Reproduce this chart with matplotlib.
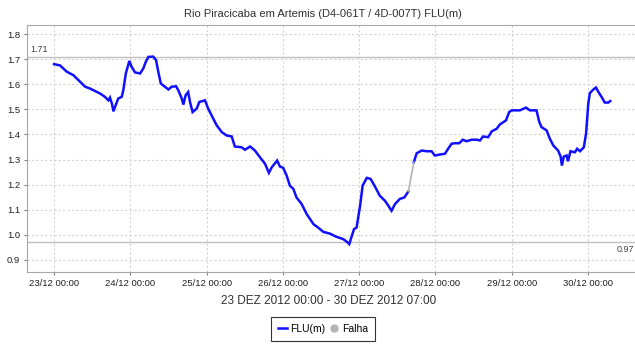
import matplotlib.pyplot as plt

# Nivel do rio (FLU, m) -- horas desde 23/12/2012 00:00
hours = [0, 1.9, 4.0, 6.1, 8.2, 9.8, 11.3, 12.9, 14.5, 16.0, 17.1, 17.6, 18.2, 18.7,
         19.2, 20.2, 21.3, 21.8, 22.6, 23.7, 24.4, 25.5, 27.1, 28.1, 28.9, 29.7,
         31.2, 32.1, 32.8, 33.6, 34.9, 36.0, 37.0, 38.4, 39.1, 40.2, 40.7, 41.4,
         42.2, 42.8, 43.6, 44.9, 45.7, 47.5, 48.5, 50.1, 51.2, 52.8, 54.3, 55.9,
         56.9, 59.0, 60.1, 61.7, 63.2, 64.8, 66.4, 67.6, 68.5, 70.2, 71.1, 72.1,
         73.2, 74.2, 75.3, 76.3, 77.9, 79.5, 81.6, 83.1, 84.7, 86.8, 88.9, 91.0,
         92.1, 92.9, 93.6, 94.4, 95.2, 96.3, 97.1, 98.4, 99.6, 101.0, 102.5, 104.1,
         105.2, 106.2, 107.3, 108.8, 110.2, 111.5]
level = [1.68, 1.675, 1.65, 1.636, 1.61, 1.59, 1.583, 1.573, 1.563, 1.55, 1.536, 1.547,
         1.523, 1.492, 1.51, 1.543, 1.55, 1.576, 1.643, 1.693, 1.67, 1.647, 1.643,
         1.663, 1.69, 1.709, 1.71, 1.696, 1.65, 1.603, 1.59, 1.579, 1.59, 1.592,
         1.576, 1.543, 1.519, 1.556, 1.569, 1.529, 1.489, 1.503, 1.529, 1.536, 1.503,
         1.463, 1.436, 1.409, 1.396, 1.392, 1.352, 1.349, 1.339, 1.352, 1.336, 1.309,
         1.283, 1.247, 1.269, 1.296, 1.272, 1.267, 1.236, 1.196, 1.183, 1.149, 1.123,
         1.083, 1.043, 1.029, 1.012, 1.005, 0.992, 0.983, 0.973, 0.963, 0.992, 1.023,
         1.029, 1.116, 1.196, 1.227, 1.223, 1.192, 1.156, 1.136, 1.116, 1.096, 1.123,
         1.143, 1.149, 1.173]

hours2 = [113.2, 114.1, 115.7, 117.2, 118.8, 119.8, 121.4, 123.0, 124.0, 125.1, 126.1,
          127.5, 128.6, 129.8, 131.4, 133.0, 134.0, 135.0, 136.6, 137.7, 139.3, 140.3,
          142.2, 143.2, 144.0, 146.6, 148.5, 149.7, 151.8, 152.7, 153.4, 155.0, 156.0,
          157.1, 158.6, 159.4, 159.8, 160.4, 161.3, 161.7, 162.5, 163.9, 164.6, 165.5,
          166.7, 167.4, 168.1, 168.6, 169.7, 170.5, 171.3, 172.3, 173.3, 174.4, 175.0]
level2 = [1.289, 1.325, 1.336, 1.333, 1.333, 1.316, 1.32, 1.323, 1.343, 1.363, 1.365,
          1.365, 1.379, 1.373, 1.379, 1.379, 1.376, 1.392, 1.389, 1.412, 1.423, 1.44,
          1.456, 1.489, 1.496, 1.496, 1.507, 1.496, 1.496, 1.449, 1.429, 1.416, 1.383,
          1.356, 1.336, 1.312, 1.276, 1.312, 1.316, 1.293, 1.333, 1.329, 1.343, 1.333,
          1.349, 1.403, 1.523, 1.565, 1.579, 1.587, 1.569, 1.549, 1.527, 1.527, 1.533]

# trecho sem dados (falha)
gap_hours = [111.5, 113.2]
gap_level = [1.173, 1.289]

level_max = 1.71
level_min = 0.97

tick_hours = [0, 24, 48, 72, 96, 120, 144, 168]
tick_labels = ["23/12 00:00", "24/12 00:00", "25/12 00:00", "26/12 00:00",
               "27/12 00:00", "28/12 00:00", "29/12 00:00", "30/12 00:00"]
y_ticks = [0.9, 1.0, 1.1, 1.2, 1.3, 1.4, 1.5, 1.6, 1.7, 1.8]

plt.rcParams["font.family"] = ["Liberation Sans", "DejaVu Sans"]

fig = plt.figure(figsize=(6.35, 3.47), dpi=100)
ax = fig.add_axes([27 / 635, 75 / 347, 1 - 27 / 635, 247 / 347])

blue = "#1010ff"
gray = "#b4b4b4"
ax.plot(hours, level, color=blue, lw=1.8, solid_joinstyle="miter")
ax.plot(hours2, level2, color=blue, lw=1.8, solid_joinstyle="miter")
ax.plot(gap_hours, gap_level, color=gray, lw=1.2)

ax.axhline(level_max, color="#c0c0c0", lw=1.0, zorder=1)
ax.axhline(level_min, color="#c0c0c0", lw=1.0, zorder=1)
ax.text(-7.5, level_max + 0.012, f"{level_max:.2f}", fontsize=6.5, color="#404040",
        va="bottom", ha="left")
ax.text(182.5, level_min - 0.012, f"{level_min:.2f}", fontsize=6.5, color="#404040",
        va="top", ha="right")

ax.set_xlim(-8.5, 182.8)
ax.set_ylim(0.852, 1.836)
ax.set_xticks(tick_hours)
ax.set_xticklabels(tick_labels)
ax.set_yticks(y_ticks)
ax.set_yticklabels([f"{v:.1f}" for v in y_ticks])
ax.tick_params(labelsize=6.8, length=2, color="#808080", labelcolor="#202020", pad=3)
ax.grid(True, color="#d4d4d4", ls=(0, (2, 2)), lw=0.8)
ax.set_axisbelow(True)
for side in ["top", "left", "bottom"]:
    ax.spines[side].set_color("#a8a8a8")
ax.spines["right"].set_visible(False)

ax.set_title("Rio Piracicaba em Artemis (D4-061T / 4D-007T) FLU(m)", fontsize=8,
             color="#303030", pad=6, x=0.487)
ax.set_xlabel("23 DEZ 2012 00:00 - 30 DEZ 2012 07:00", fontsize=8.5, color="#303030")
ax.xaxis.set_label_coords(0.496, -0.095)

h1, = ax.plot([], [], color=blue, lw=1.8, label="FLU(m)")
h2, = ax.plot([], [], ls="none", marker="o", ms=5, color=gray, label="Falha")
leg = fig.legend(handles=[h1, h2], loc="center", bbox_to_anchor=(323 / 635, 1 - 329 / 347),
                 ncol=2, fontsize=7.5, frameon=True, fancybox=False, handlelength=0.9,
                 handletextpad=0.3, columnspacing=0.4, borderpad=0.7, borderaxespad=0)
leg.get_frame().set_edgecolor("black")
leg.get_frame().set_linewidth(0.8)
leg._legend_box.sep = 2

fig.savefig("out.png", dpi=100)
